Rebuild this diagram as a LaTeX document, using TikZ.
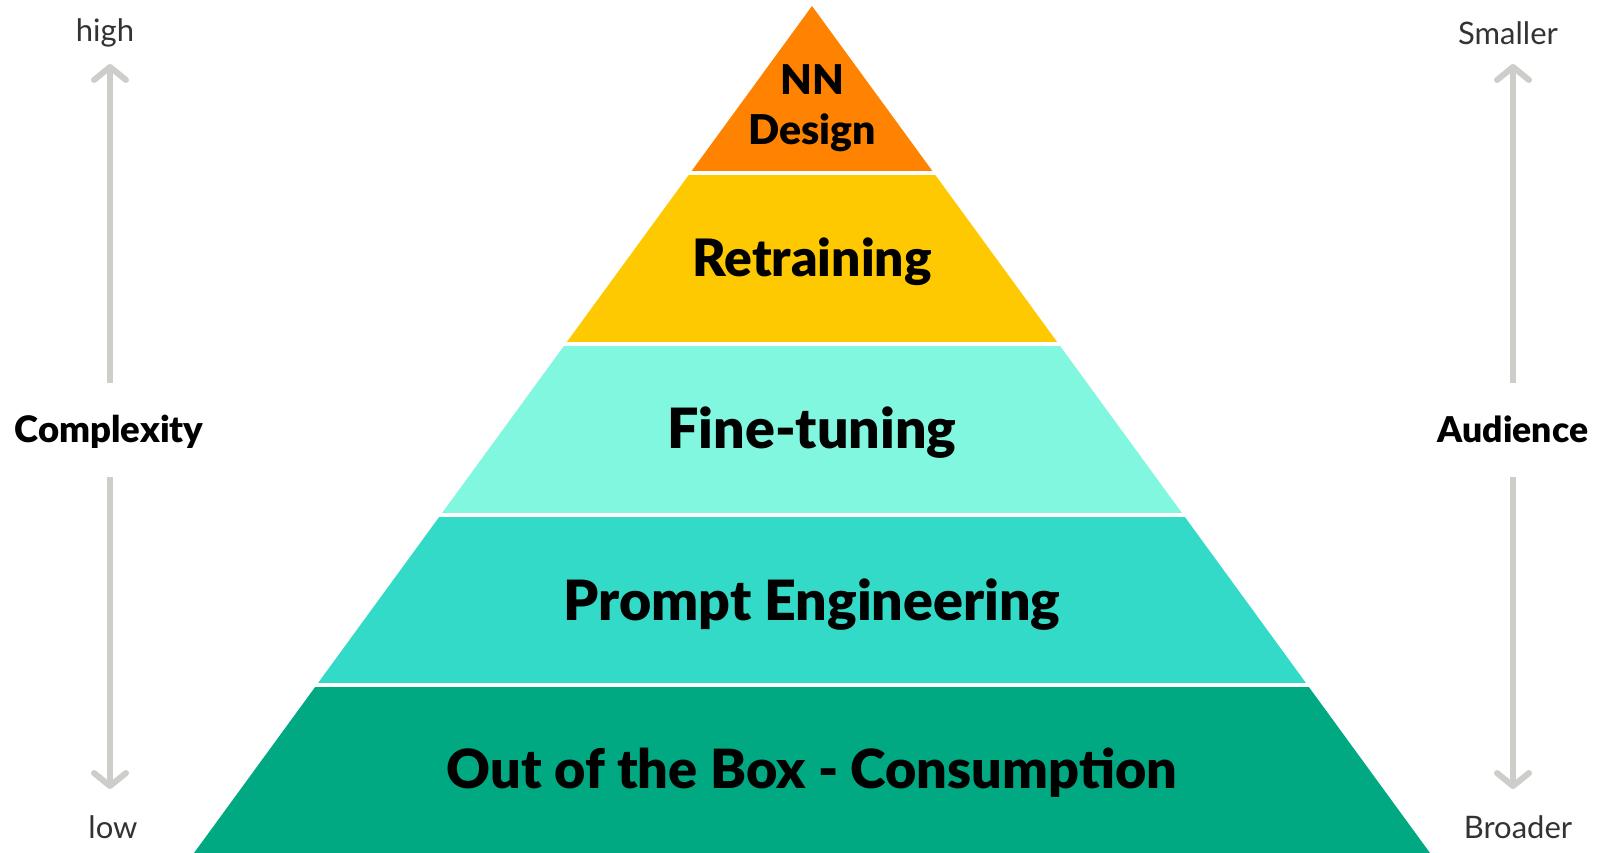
\documentclass[tikz,border=0pt]{standalone}
\usepackage{fontspec}
\setmainfont{Lato}
\newfontfamily\heavyfont{Lato Black}
\usetikzlibrary{arrows.meta}
\definecolor{cOrange}{HTML}{FF8300}
\definecolor{cYellow}{HTML}{FEC901}
\definecolor{cMint}{HTML}{82F7E0}
\definecolor{cTurq}{HTML}{33DAC8}
\definecolor{cGreen}{HTML}{01A982}
\definecolor{cArrow}{HTML}{CDCDC9}
\definecolor{cLabel}{HTML}{333333}
\tikzset{
  gapline/.style={draw=white,line width=4pt},
  tier/.style={font=\heavyfont\fontsize{#1}{52}\selectfont,text=black,inner sep=0pt,align=center},
  tier/.default=54,
  axistitle/.style={font=\heavyfont\fontsize{#1}{37}\selectfont,text=black,inner sep=0pt},
  axistitle/.default=36,
  endlabel/.style={font=\fontsize{31}{33}\selectfont,text=cLabel,inner sep=0pt},
  axisarrow/.style={draw=cArrow,line width=6.5pt,-{Straight Barb[length=13pt,width=32pt,line width=6pt,round]}}
}
\begin{document}
\begin{tikzpicture}[x=1pt,y=-1pt]
\useasboundingbox[fill=white] (0,0) rectangle (1600,853);
% pyramid bands
\fill[cGreen] (316.6,685) -- (1307.4,685) -- (1430,853) -- (194,853) -- cycle;
\fill[cTurq] (440.6,515) -- (1183.4,515) -- (1307.4,685) -- (316.6,685) -- cycle;
\fill[cMint] (565.4,344) -- (1058.6,344) -- (1183.4,515) -- (440.6,515) -- cycle;
\fill[cYellow] (689.8,173.5) -- (934.2,173.5) -- (1058.6,344) -- (565.4,344) -- cycle;
\fill[cOrange] (812,6) -- (934.2,173.5) -- (689.8,173.5) -- cycle;
% white gaps
\draw[gapline] (680,173.5) -- (945,173.5);
\draw[gapline] (555,344) -- (1070,344);
\draw[gapline] (430,515) -- (1195,515);
\draw[gapline] (305,685) -- (1320,685);
% tier labels
\node[tier,font=\heavyfont\fontsize{41}{50}\selectfont] (nn) at (812,108) {NN\\Design};
\node[tier=51.5] (retrain) at (812,262) {Retraining};
\node[tier=55.5] (fine) at (812,433) {Fine-tuning};
\node[tier=55.5] (prompt) at (812,605) {Prompt Engineering};
\node[tier=54] (ootb) at (812,773) {Out of the Box - Consumption};
% left axis
\node[endlabel] (high) at (105,33) {high};
\node[endlabel] (low) at (113,827) {low};
\node[axistitle=36.5] (complexity) at (109,432) {Complexity};
\coordinate (lupS) at (110,383);
\coordinate (lupE) at (110,64);
\coordinate (ldnS) at (110,477);
\coordinate (ldnE) at (110,789);
\draw[axisarrow] (lupS) -- (lupE);
\draw[axisarrow] (ldnS) -- (ldnE);
% right axis
\node[endlabel] (smaller) at (1508,33) {Smaller};
\node[endlabel] (broader) at (1518,827) {Broader};
\node[axistitle=35.5] (audience) at (1513,429) {Audience};
\coordinate (rupS) at (1513,383);
\coordinate (rupE) at (1513,64);
\coordinate (rdnS) at (1513,477);
\coordinate (rdnE) at (1513,789);
\draw[axisarrow] (rupS) -- (rupE);
\draw[axisarrow] (rdnS) -- (rdnE);
\end{tikzpicture}
\end{document}
